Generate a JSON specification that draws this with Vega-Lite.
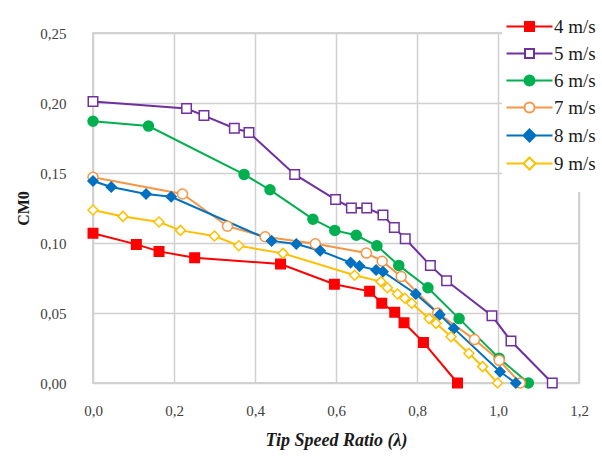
{
  "$schema": "https://vega.github.io/schema/vega-lite/v6.json",
  "width": 486,
  "height": 350,
  "autosize": {"type": "none"},
  "padding": {"left": 93, "top": 33, "right": 23, "bottom": 73},
  "background": "white",
  "config": {
    "view": {"stroke": "#c8c8c8", "strokeWidth": 1.5},
    "axis": {
      "labelFont": "Liberation Serif",
      "labelFontSize": 15,
      "labelColor": "#404040",
      "labelFlush": false,
      "gridColor": "#d0d0d0",
      "gridWidth": 1.5,
      "domain": false,
      "ticks": false,
      "titleFont": "Liberation Serif",
      "titleColor": "#1a1a1a"
    }
  },
  "data": {
    "values": [
      {"s": "4 m/s", "x": 0.0, "y": 0.107},
      {"s": "4 m/s", "x": 0.107, "y": 0.099},
      {"s": "4 m/s", "x": 0.163, "y": 0.094},
      {"s": "4 m/s", "x": 0.251, "y": 0.0895},
      {"s": "4 m/s", "x": 0.463, "y": 0.085},
      {"s": "4 m/s", "x": 0.596, "y": 0.0705},
      {"s": "4 m/s", "x": 0.683, "y": 0.0655},
      {"s": "4 m/s", "x": 0.713, "y": 0.057},
      {"s": "4 m/s", "x": 0.745, "y": 0.0505},
      {"s": "4 m/s", "x": 0.768, "y": 0.043},
      {"s": "4 m/s", "x": 0.816, "y": 0.029},
      {"s": "4 m/s", "x": 0.9, "y": 0.0},
      {"s": "5 m/s", "x": 0.0, "y": 0.201},
      {"s": "5 m/s", "x": 0.231, "y": 0.196},
      {"s": "5 m/s", "x": 0.274, "y": 0.191},
      {"s": "5 m/s", "x": 0.349, "y": 0.182},
      {"s": "5 m/s", "x": 0.385, "y": 0.179},
      {"s": "5 m/s", "x": 0.498, "y": 0.149},
      {"s": "5 m/s", "x": 0.599, "y": 0.131},
      {"s": "5 m/s", "x": 0.638, "y": 0.125},
      {"s": "5 m/s", "x": 0.676, "y": 0.125},
      {"s": "5 m/s", "x": 0.716, "y": 0.12},
      {"s": "5 m/s", "x": 0.744, "y": 0.111},
      {"s": "5 m/s", "x": 0.771, "y": 0.103},
      {"s": "5 m/s", "x": 0.833, "y": 0.084},
      {"s": "5 m/s", "x": 0.873, "y": 0.073},
      {"s": "5 m/s", "x": 0.985, "y": 0.048},
      {"s": "5 m/s", "x": 1.032, "y": 0.030},
      {"s": "5 m/s", "x": 1.134, "y": 0.0},
      {"s": "6 m/s", "x": 0.0, "y": 0.187},
      {"s": "6 m/s", "x": 0.137, "y": 0.1835},
      {"s": "6 m/s", "x": 0.373, "y": 0.149},
      {"s": "6 m/s", "x": 0.437, "y": 0.138},
      {"s": "6 m/s", "x": 0.543, "y": 0.117},
      {"s": "6 m/s", "x": 0.597, "y": 0.109},
      {"s": "6 m/s", "x": 0.65, "y": 0.1055},
      {"s": "6 m/s", "x": 0.701, "y": 0.098},
      {"s": "6 m/s", "x": 0.755, "y": 0.084},
      {"s": "6 m/s", "x": 0.827, "y": 0.068},
      {"s": "6 m/s", "x": 0.904, "y": 0.046},
      {"s": "6 m/s", "x": 1.003, "y": 0.0176},
      {"s": "6 m/s", "x": 1.075, "y": 0.0},
      {"s": "7 m/s", "x": 0.0, "y": 0.147},
      {"s": "7 m/s", "x": 0.221, "y": 0.135},
      {"s": "7 m/s", "x": 0.332, "y": 0.112},
      {"s": "7 m/s", "x": 0.425, "y": 0.1045},
      {"s": "7 m/s", "x": 0.549, "y": 0.0995},
      {"s": "7 m/s", "x": 0.675, "y": 0.0928},
      {"s": "7 m/s", "x": 0.714, "y": 0.087},
      {"s": "7 m/s", "x": 0.761, "y": 0.076},
      {"s": "7 m/s", "x": 0.851, "y": 0.050},
      {"s": "7 m/s", "x": 0.942, "y": 0.031},
      {"s": "7 m/s", "x": 1.003, "y": 0.0162},
      {"s": "7 m/s", "x": 1.055, "y": 0.0},
      {"s": "8 m/s", "x": 0.0, "y": 0.1443},
      {"s": "8 m/s", "x": 0.045, "y": 0.140},
      {"s": "8 m/s", "x": 0.131, "y": 0.135},
      {"s": "8 m/s", "x": 0.193, "y": 0.133},
      {"s": "8 m/s", "x": 0.441, "y": 0.1015},
      {"s": "8 m/s", "x": 0.502, "y": 0.0993},
      {"s": "8 m/s", "x": 0.561, "y": 0.0945},
      {"s": "8 m/s", "x": 0.636, "y": 0.086},
      {"s": "8 m/s", "x": 0.658, "y": 0.0835},
      {"s": "8 m/s", "x": 0.699, "y": 0.0807},
      {"s": "8 m/s", "x": 0.716, "y": 0.0795},
      {"s": "8 m/s", "x": 0.797, "y": 0.0636},
      {"s": "8 m/s", "x": 0.856, "y": 0.0488},
      {"s": "8 m/s", "x": 0.891, "y": 0.039},
      {"s": "8 m/s", "x": 1.005, "y": 0.008},
      {"s": "8 m/s", "x": 1.044, "y": 0.0},
      {"s": "9 m/s", "x": 0.0, "y": 0.1236},
      {"s": "9 m/s", "x": 0.074, "y": 0.119},
      {"s": "9 m/s", "x": 0.163, "y": 0.115},
      {"s": "9 m/s", "x": 0.216, "y": 0.109},
      {"s": "9 m/s", "x": 0.30, "y": 0.105},
      {"s": "9 m/s", "x": 0.36, "y": 0.098},
      {"s": "9 m/s", "x": 0.469, "y": 0.0926},
      {"s": "9 m/s", "x": 0.646, "y": 0.077},
      {"s": "9 m/s", "x": 0.711, "y": 0.0724},
      {"s": "9 m/s", "x": 0.727, "y": 0.068},
      {"s": "9 m/s", "x": 0.752, "y": 0.0636},
      {"s": "9 m/s", "x": 0.77, "y": 0.0605},
      {"s": "9 m/s", "x": 0.787, "y": 0.057},
      {"s": "9 m/s", "x": 0.83, "y": 0.046},
      {"s": "9 m/s", "x": 0.847, "y": 0.0426},
      {"s": "9 m/s", "x": 0.884, "y": 0.033},
      {"s": "9 m/s", "x": 0.928, "y": 0.0212},
      {"s": "9 m/s", "x": 0.962, "y": 0.0117},
      {"s": "9 m/s", "x": 0.999, "y": 0.0}
    ]
  },
  "encoding": {
    "x": {
      "field": "x", "type": "quantitative",
      "scale": {"domain": [0, 1.2], "nice": false},
      "axis": {
        "values": [0, 0.2, 0.4, 0.6, 0.8, 1.0, 1.2],
        "labelExpr": "replace(format(datum.value, '.1f'), '.', ',')",
        "labelPadding": 20,
        "title": "Tip Speed Ratio (λ)",
        "titleFontSize": 18,
        "titleFontWeight": "bold",
        "titleFontStyle": "italic",
        "titlePadding": 13
      }
    },
    "y": {
      "field": "y", "type": "quantitative",
      "scale": {"domain": [0, 0.25], "nice": false},
      "axis": {
        "values": [0, 0.05, 0.1, 0.15, 0.2, 0.25],
        "labelExpr": "replace(format(datum.value, '.2f'), '.', ',')",
        "labelPadding": 27,
        "title": "CM0",
        "titleFontSize": 16,
        "titleFontWeight": "bold",
        "titlePadding": 8
      }
    }
  },
  "layer": [
    {
      "mark": {"type": "line", "strokeWidth": 2},
      "encoding": {
        "color": {
          "field": "s", "type": "nominal",
          "scale": {
            "domain": ["4 m/s", "5 m/s", "6 m/s", "7 m/s", "8 m/s", "9 m/s"],
            "range": ["#ff0000", "#7030a0", "#00b050", "#f79646", "#0070c0", "#ffc000"]
          },
          "legend": {
            "title": null,
            "orient": "none",
            "legendX": 409,
            "legendY": -34,
            "padding": 18,
            "fillColor": "white",
            "symbolSize": 100,
            "symbolStrokeWidth": 2,
            "labelOffset": 15,
            "labelFont": "Liberation Serif",
            "labelFontSize": 19,
            "labelColor": "#1a1a1a",
            "rowPadding": 7,
            "encode": {
              "symbols": {
                "update": {
                  "shape": {"signal": "(datum.value == '4 m/s' || datum.value == '5 m/s') ? 'M-4.6,0L-0.9,0M0.9,0L4.6,0M-0.9,-0.9L0.9,-0.9L0.9,0.9L-0.9,0.9Z' : ((datum.value == '6 m/s' || datum.value == '7 m/s') ? 'M-4.6,0L-1,0M1,0L4.6,0M1,0A1,1,0,1,1,-1,0A1,1,0,1,1,1,0Z' : 'M-4.6,0L-1.2,0M1.2,0L4.6,0M0,-1.2L1.2,0L0,1.2L-1.2,0Z')"},
                  "fill": {"signal": "datum.value == '4 m/s' ? '#ff0000' : (datum.value == '6 m/s' ? '#00b050' : (datum.value == '8 m/s' ? '#0070c0' : '#ffffff'))"},
                  "stroke": {"signal": "datum.value == '4 m/s' ? '#ff0000' : (datum.value == '5 m/s' ? '#7030a0' : (datum.value == '6 m/s' ? '#00b050' : (datum.value == '7 m/s' ? '#f79646' : (datum.value == '8 m/s' ? '#0070c0' : '#ffc000'))))"},
                  "strokeWidth": {"value": 2},
                  "opacity": {"value": 1}
                }
              }
            }
          }
        }
      }
    },
    {
      "transform": [{"filter": "datum.s == '4 m/s'"}],
      "mark": {"type": "point", "shape": "square", "fill": "#ff0000", "stroke": "#ff0000", "strokeWidth": 1.5, "size": 90, "opacity": 1}
    },
    {
      "transform": [{"filter": "datum.s == '5 m/s'"}],
      "mark": {"type": "point", "shape": "square", "fill": "#ffffff", "stroke": "#7030a0", "strokeWidth": 1.5, "size": 90, "opacity": 1}
    },
    {
      "transform": [{"filter": "datum.s == '6 m/s'"}],
      "mark": {"type": "point", "shape": "circle", "fill": "#00b050", "stroke": "#00b050", "strokeWidth": 1.5, "size": 100, "opacity": 1}
    },
    {
      "transform": [{"filter": "datum.s == '7 m/s'"}],
      "mark": {"type": "point", "shape": "circle", "fill": "#ffffff", "stroke": "#f79646", "strokeWidth": 1.5, "size": 100, "opacity": 1}
    },
    {
      "transform": [{"filter": "datum.s == '8 m/s'"}],
      "mark": {"type": "point", "shape": "diamond", "fill": "#0070c0", "stroke": "#0070c0", "strokeWidth": 1.5, "size": 100, "opacity": 1}
    },
    {
      "transform": [{"filter": "datum.s == '9 m/s'"}],
      "mark": {"type": "point", "shape": "diamond", "fill": "#ffffff", "stroke": "#ffc000", "strokeWidth": 1.5, "size": 100, "opacity": 1}
    }
  ]
}
